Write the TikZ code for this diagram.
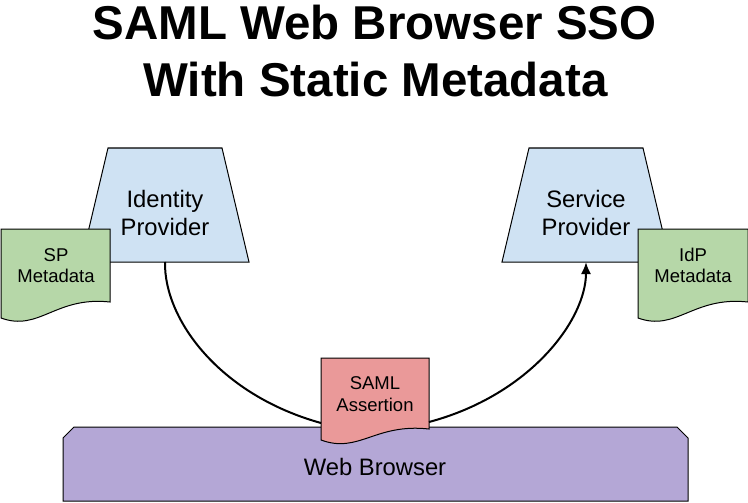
\documentclass[tikz,border=0pt]{standalone}
\usepackage{fontspec}
\setmainfont{Liberation Sans}
\usetikzlibrary{arrows.meta}
\definecolor{provblue}{HTML}{CFE2F3}
\definecolor{docgreen}{HTML}{B6D7A8}
\definecolor{docpink}{HTML}{EA9999}
\definecolor{browserpurple}{HTML}{B4A7D6}
\newcommand{\docpath}[6]{% fill colour, x0, y0, w, hl, hr
  \draw[outline, fill=#1] (#2,#3) -- ({#2+#4},#3) -- ({#2+#4},{#3+#6})
    .. controls ({#2+0.5*#4},{#3+#6-6}) and ({#2+0.35*#4},{#3+#5+14}) .. (#2,{#3+#5}) -- cycle;}
\newcommand{\trappath}[1]{% centre x
  \draw[outline, fill=provblue] ({#1-57},148) -- ({#1+57},148) -- ({#1+84},262)
    -- ({#1-84},262) -- cycle;}
\begin{document}
\begin{tikzpicture}[x=1pt,y=-1pt,
  outline/.style={draw=black, line width=1pt},
  provbox/.style={minimum width=168pt, minimum height=114pt,
    inner sep=0pt, outer sep=0pt},
  bigtxt/.style={align=center, inner sep=0pt, outer sep=0pt,
    font=\fontsize{23.8}{28}\selectfont},
  smalltxt/.style={align=center, inner sep=0pt, outer sep=0pt,
    font=\fontsize{18.5}{21.5}\selectfont},
  titletxt/.style={anchor=base, inner sep=0pt,
    font=\bfseries\fontsize{47.5}{56}\selectfont},
  conn/.style={draw=black, line width=2pt}]
\useasboundingbox (0,0) rectangle (748,503);

% title
\node[titletxt] (title1) at (374.5,40) {SAML Web Browser SSO};
\node[titletxt] (title2) at (375.5,96) {With Static Metadata};

% providers
\trappath{165}
\node[provbox] (idp) at (165,205) {};
\node[bigtxt] (idptext) at (165,213) {Identity\\Provider};
\trappath{586}
\node[provbox] (sp) at (586,205) {};
\node[bigtxt] (sptext) at (586,213) {Service\\Provider};

% metadata documents
\docpath{docgreen}{1}{229}{109}{89}{73}
\node[smalltxt] (spmeta) at (56,265.5) {SP\\Metadata};
\docpath{docgreen}{638}{229}{110}{89}{73}
\node[smalltxt] (idpmeta) at (693,265.5) {IdP\\Metadata};

% web browser
\draw[outline, fill=browserpurple] (63,438) -- (74,427) -- (677,427) -- (688,438)
  -- (688,501) -- (63,501) -- cycle;
\node[bigtxt] (browser) at (375,467) {Web Browser};

% SAML assertion
\docpath{docpink}{321}{358}{108}{82}{71}
\node[smalltxt, minimum width=108pt] (saml) at (375,394) {SAML\\Assertion};

% connectors
\draw[conn] (idp.south) .. controls (164,320) and (220,395) .. ([yshift=-29pt]saml.west);
\draw[conn, -{Latex[length=12pt,width=10pt]}] ([yshift=-28pt]saml.east)
  .. controls (530,395) and (586,320) .. (sp.south);
\end{tikzpicture}
\end{document}
